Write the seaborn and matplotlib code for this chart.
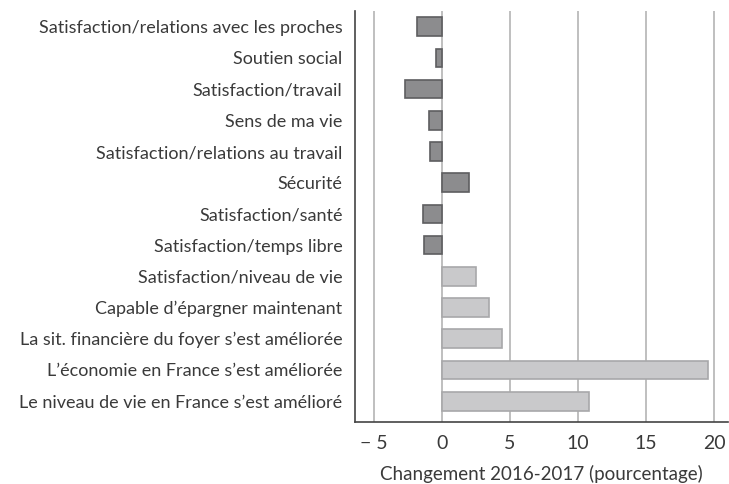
import pandas as pd
import numpy as np
import matplotlib.pyplot as plt
import seaborn as sns

labels = [
    "Satisfaction/relations avec les proches",
    "Soutien social",
    "Satisfaction/travail",
    "Sens de ma vie",
    "Satisfaction/relations au travail",
    "Sécurité",
    "Satisfaction/santé",
    "Satisfaction/temps libre",
    "Satisfaction/niveau de vie",
    "Capable d\u2019épargner maintenant",
    "La sit. financière du foyer s\u2019est améliorée",
    "L\u2019économie en France s\u2019est améliorée",
    "Le niveau de vie en France s\u2019est amélioré",
]
values = [-1.8, -0.4, -2.7, -0.9, -0.85, 2.0, -1.4, -1.3, 2.5, 3.5, 4.45, 19.5, 10.8]
groups = ["bien-être"] * 8 + ["économie"] * 5

ticks = [-5, 0, 5, 10, 15, 20]
tick_labels = ["\u2212 5", "0", "5", "10", "15", "20"]

df = pd.DataFrame({"label": labels, "value": values, "group": groups})

sns.set_style("white")
plt.rcParams["font.family"] = ["Lato", "DejaVu Sans"]

fig = plt.figure(figsize=(7.29, 4.84), dpi=100)
ax = fig.add_axes([0.487, 0.128, 0.5116, 0.849])

# vertical grid
for t in ticks:
    ax.axvline(t, color="#b4b4b4", lw=1.2, zorder=0)

sns.barplot(data=df[df.group == "bien-être"], x="value", y="label", order=labels,
            color="#8c8c8e", saturation=1, width=0.6, edgecolor="#5e5e60",
            linewidth=1.2, ax=ax, zorder=2)
sns.barplot(data=df[df.group == "économie"], x="value", y="label", order=labels,
            color="#c9c9cb", saturation=1, width=0.6, edgecolor="#a8a8aa",
            linewidth=1.2, ax=ax, zorder=2)

ax.set_xlim(-6.36, 21.0)
ax.set_ylim(12.67, -0.5)
ax.set_xticks(ticks)
ax.set_xticklabels(tick_labels, fontsize=14, color="#3a3a3a")
ax.tick_params(axis="x", length=6, color="#b4b4b4", pad=3)
ax.tick_params(axis="y", length=0, labelsize=13, labelcolor="#3a3a3a", pad=9)
ax.set_ylabel("")
ax.set_xlabel("Changement 2016-2017 (pourcentage)", fontsize=13.5, color="#3a3a3a",
              labelpad=10)

for s in ["top", "right"]:
    ax.spines[s].set_visible(False)
for s in ["left", "bottom"]:
    ax.spines[s].set_color("#444444")
    ax.spines[s].set_linewidth(1.2)

fig.savefig("out.png", dpi=100)
